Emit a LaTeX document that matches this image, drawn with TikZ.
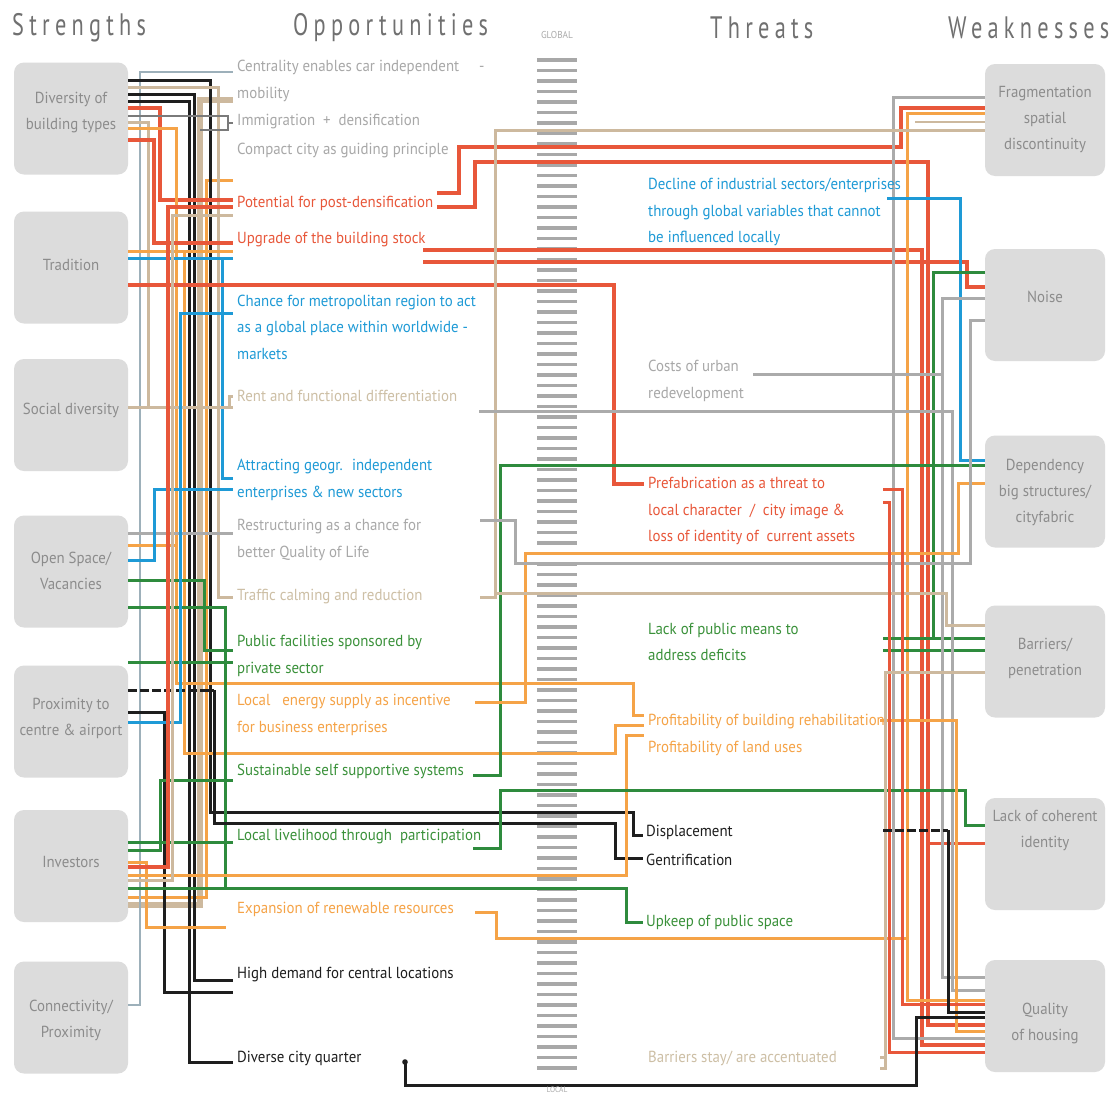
\documentclass[tikz,border=0pt]{standalone}
\usepackage{fontspec}
\setmainfont{PT Sans}
\newfontfamily\labf[FakeStretch=0.93]{PT Sans}
\newfontfamily\hdrf[FakeStretch=0.72,LetterSpace=17]{PT Sans}
\definecolor{cred}{HTML}{E8573A}
\definecolor{corg}{HTML}{F5A347}
\definecolor{ctan}{HTML}{CDB99E}
\definecolor{cgray}{HTML}{ABABAB}
\definecolor{cdgray}{HTML}{7A7A7A}
\definecolor{cblue}{HTML}{1E9AD6}
\definecolor{cgreen}{HTML}{2E8B3D}
\definecolor{cblack}{HTML}{1E1E1E}
\definecolor{cgb}{HTML}{9DB0BA}
\definecolor{boxgray}{HTML}{DCDCDC}
\definecolor{btext}{HTML}{8C8C8C}
\definecolor{hdrc}{HTML}{707070}
\definecolor{tgray}{HTML}{A8A8A8}
\definecolor{ttan}{HTML}{CDBFA5}
\definecolor{tgreen}{HTML}{3A913A}
\definecolor{stripe}{HTML}{A8A8A8}
\begin{document}
\begin{tikzpicture}[x=1pt,y=-1pt,
  sbox/.style={fill=boxgray, rounded corners=10pt, minimum width=114pt, minimum height=112pt, inner sep=0pt},
  wbox/.style={sbox, minimum width=120pt},
  btxt/.style={font=\labf\fontsize{16}{26}\selectfont, text=btext, align=center, inner sep=0pt},
  lab/.style={font=\labf\fontsize{16}{26.5}\selectfont, align=left, anchor=west, inner sep=0pt},
  hdr/.style={font=\hdrf\fontsize{31}{31}\selectfont, text=hdrc, anchor=west, inner sep=0pt},
  cn/.style={line width=3pt},
  cnt/.style={line width=4pt},
  cnw/.style={line width=5.5pt},
  cnl/.style={line width=2pt}]
\fill[white] (0,0) rectangle (1116,1095);
\useasboundingbox (0,0) rectangle (1116,1095);

% headers
\node[hdr] (hS) at (12,28) {Strengths};
\node[hdr] (hO) at (293,28) {Opportunities};
\node[hdr] (hT) at (710,28) {Threats};
\node[hdr] (hW) at (948,28) {Weaknesses};
\node[font=\labf\fontsize{10}{10}\selectfont, text=cgray, inner sep=0pt] (glob) at (557,35) {GLOBAL};

% central stripe
\foreach \i in {0,...,96} {
  \fill[stripe] (537,{58+\i*10.5}) rectangle (577,{61.8+\i*10.5});
}

% strength boxes
\node[sbox] (s1) at (71,118.5) {};
\node[sbox] (s2) at (71,267.5) {};
\node[sbox] (s3) at (71,415) {};
\node[sbox] (s4) at (71,571.5) {};
\node[sbox] (s5) at (71,721.5) {};
\node[sbox] (s6) at (71,866) {};
\node[sbox] (s7) at (71,1017.5) {};
\node[btxt] (s1t) at (71,113) {Diversity of\\building types};
\node[btxt] (s2t) at (71,265) {Tradition};
\node[btxt] (s3t) at (71,410) {Social diversity};
\node[btxt] (s4t) at (71,571) {Open Space/\\Vacancies};
\node[btxt] (s5t) at (71,718) {Proximity to\\centre \& airport};
\node[btxt] (s6t) at (71,862) {Investors};
\node[btxt] (s7t) at (71,1020) {Connectivity/\\Proximity};

% weakness boxes
\node[wbox] (w1) at (1045,120) {};
\node[wbox] (w2) at (1045,305) {};
\node[wbox] (w3) at (1045,491.5) {};
\node[wbox] (w4) at (1045,661.5) {};
\node[wbox] (w5) at (1045,854) {};
\node[wbox] (w6) at (1045,1016) {};
\node[btxt] (w1t) at (1045,119) {Fragmentation\\spatial\\discontinuity};
\node[btxt] (w2t) at (1045,297) {Noise};
\node[btxt] (w3t) at (1045,492) {Dependency\\big structures/\\cityfabric};
\node[btxt] (w4t) at (1045,658) {Barriers/\\penetration};
\node[btxt] (w5t) at (1045,830) {Lack of coherent\\identity};
\node[btxt] (w6t) at (1045,1023) {Quality\\of housing};

% ---------- connectors, left bundle ----------
\draw[cnw,ctan] (s6.east |- 0,905) -- (200,905) -- (200,100) -- (233,100);
\draw[cn,corg] (s6.east |- 0,897) -- (206,897) -- (206,180) -- (233,180);
\draw[cnl,cgb] (s7.east |- 0,1005) -- (140,1005) -- (140,72) -- (233,72);
\draw[cn,cblack] (s1.east |- 0,80) -- (210,80) -- (210,812) -- (633,812) -- (633,835) -- (643,835);
\draw[cn,ctan] (s1.east |- 0,87) -- (218,87) -- (218,597) -- (233,597);
\draw[cn,cblack] (s1.east |- 0,94) -- (194,94) -- (194,980) -- (233,980);
\draw[cn,cblack] (s1.east |- 0,101) -- (189,101) -- (189,1062) -- (233,1062);
\draw[cnt,cred] (s1.east |- 0,108) -- (160,108) -- (160,200) -- (233,200);
\draw[cnl,cdgray] (s1.east |- 0,116) -- (228,116) -- (228,130) -- (200,130);
\draw[cnl,cdgray] (228,123) -- (233,123);
\draw[cn,ctan] (s1.east |- 0,122) -- (148,122) -- (148,407) -- (233,407);
\draw[cn,corg] (s1.east |- 0,128) -- (176,128) -- (176,683) -- (633,683) -- (633,715) -- (644,715);
\draw[cnt,cred] (s1.east |- 0,140) -- (154,140) -- (154,243) -- (233,243);

\draw[cn,corg] (s2.east |- 0,251) -- (233,251);
\draw[cn,corg] (184,251) -- (184,753) -- (615,753) -- (615,725) -- (644,725);
\draw[cn,cblue] (s2.east |- 0,258) -- (233,258);
\draw[cn,cblue] (222,258) -- (222,478) -- (233,478);
\draw[cnt,cred] (s2.east |- 0,285) -- (614,285) -- (614,484) -- (644,484);

\draw[cn,ctan] (s3.east |- 0,407) -- (229,407) -- (229,396) -- (233,396);

\draw[cn,cgray] (s4.east |- 0,533) -- (233,533);
\draw[cn,corg] (s4.east |- 0,545) -- (176,545);
\draw[cn,cblue] (s4.east |- 0,560) -- (154,560) -- (154,489) -- (233,489);
\draw[cn,cgreen] (s4.east |- 0,580) -- (204,580) -- (204,650) -- (233,650);
\draw[cn,cgreen] (s4.east |- 0,607) -- (225,607) -- (225,888) -- (626,888) -- (626,922) -- (643,922);

\draw[cn,cgreen] (s5.east |- 0,662) -- (233,662);
\draw[cn,cblack,dash pattern=on 9pt off 3pt] (s5.east |- 0,690) -- (214,690);
\draw[cn,cblack] (214,690) -- (214,823) -- (615,823) -- (615,858) -- (643,858);
\draw[cn,cblack] (s5.east |- 0,712) -- (164,712) -- (164,992) -- (233,992);
\draw[cn,cblue] (s5.east |- 0,722) -- (180,722) -- (180,313) -- (233,313);

\draw[cn,cgreen] (s6.east |- 0,842) -- (233,842);
\draw[cn,cgreen] (s6.east |- 0,850) -- (160,850) -- (160,780) -- (233,780);
\draw[cn,corg] (s6.east |- 0,862) -- (146,862) -- (146,927) -- (226,927);
\draw[cnt,cred] (s6.east |- 0,867) -- (168,867) -- (168,207) -- (233,207);
\draw[cn,corg] (s6.east |- 0,875) -- (626,875) -- (626,735) -- (644,735);
\draw[cn,ctan] (s6.east |- 0,880) -- (172,880) -- (172,215) -- (233,215);
\draw[cn,cgreen] (s6.east |- 0,888) -- (225,888);

% ---------- connectors, middle and right ----------
\draw[cnt,cred] (437,193) -- (459,193) -- (459,147) -- (901,147) -- (901,108) -- (w1.west |- 0,108);
\draw[cnt,cred] (437,207) -- (475,207) -- (475,162) -- (928,162) -- (928,1025) -- (w6.west |- 0,1025);
\draw[cn,cred] (928,843) -- (w5.west |- 0,843);
\draw[cnt,cred] (423,250) -- (922,250) -- (922,1045) -- (w6.west |- 0,1045);
\draw[cnt,cred] (423,262) -- (967,262) -- (967,287) -- (w2.west |- 0,287);
\draw[cn,cgray] (w1.west |- 0,97) -- (893,97) -- (893,1038) -- (w6.west |- 0,1038);
\draw[cn,corg] (w1.west |- 0,113) -- (907,113) -- (907,1000) -- (w6.west |- 0,1000);
\draw[cnl,ctan] (w1.west |- 0,122) -- (915,122);
\draw[cn,ctan] (480,597) -- (495,597) -- (495,130) -- (w1.west |- 0,130);
\draw[cn,cblue] (887,198) -- (960,198) -- (960,460) -- (w3.west |- 0,460);
\draw[cn,cgreen] (w2.west |- 0,272) -- (933,272) -- (933,638) -- (w4.west |- 0,638);
\draw[cn,cgreen] (883,638) -- (933,638);
\draw[cn,cgreen] (883,650) -- (w4.west |- 0,650);
\draw[cn,cgray] (753,374) -- (942,374) -- (942,298) -- (w2.west |- 0,298);
\draw[cn,cgray] (942,374) -- (942,977) -- (w6.west |- 0,977);
\draw[cn,cgray] (479,411) -- (952,411) -- (952,990) -- (w6.west |- 0,990);
\draw[cn,cgreen] (473,775) -- (500,775) -- (500,465) -- (w3.west |- 0,465);
\draw[cn,corg] (475,702) -- (525,702) -- (525,553) -- (958,553) -- (958,483) -- (w3.west |- 0,483);
\draw[cn,cgray] (480,520) -- (515,520) -- (515,563) -- (970,563) -- (970,320) -- (w2.west |- 0,320);
\draw[cn,ctan] (495,593) -- (946,593) -- (946,625) -- (w4.west |- 0,625);
\draw[cn,cgreen] (473,848) -- (500,848) -- (500,790) -- (965,790) -- (965,825) -- (w5.west |- 0,825);
\draw[cn,corg] (475,912) -- (496,912) -- (496,938) -- (907,938);
\draw[cn,corg] (880,720) -- (956,720) -- (956,1031) -- (w6.west |- 0,1031);
\draw[cn,cred] (883,489) -- (902,489) -- (902,1004) -- (w6.west |- 0,1004);
\draw[cn,cred] (883,502) -- (889,502) -- (889,1052) -- (w6.west |- 0,1052);
\draw[cn,ctan] (880,1068) -- (885,1068) -- (885,672) -- (w4.west |- 0,672);
\draw[cn,ctan] (880,1057) -- (885,1057);
\draw[cn,cblack,dash pattern=on 9pt off 3pt] (883,830) -- (948,830);
\draw[cn,cblack] (948,830) -- (948,1012) -- (w6.west |- 0,1012);
\draw[cn,cblack] (405,1062) -- (405,1085) -- (916,1085) -- (916,1017) -- (w6.west |- 0,1017);
\fill[cblack] (405,1062) circle (2.8);
\node[font=\labf\fontsize{8}{8}\selectfont, text=cgray, inner sep=0pt] (loc) at (557,1090) {LOCAL};

% ---------- opportunity texts ----------
\node[lab, text=tgray] (o1) at (237,81) {Centrality enables car independent \quad -\\mobility};
\node[lab, text=tgray] (o2) at (237,122) {Immigration \ + \ densification};
\node[lab, text=tgray] (o3) at (237,150) {Compact city as guiding principle};
\node[lab, text=cred] (o4) at (237,203) {Potential for post-densification};
\node[lab, text=cred] (o5) at (237,240) {Upgrade of the building stock};
\node[lab, text=cblue] (o6) at (237,327) {Chance for metropolitan region to act\\as a global place within worldwide -\\markets};
\node[lab, text=ttan] (o7) at (237,396) {Rent and functional differentiation};
\node[lab, text=cblue] (o8) at (237,480) {Attracting geogr. \ independent\\enterprises \& new sectors};
\node[lab, text=tgray] (o9) at (237,540) {Restructuring as a chance for\\better Quality of Life};
\node[lab, text=ttan] (o10) at (237,597) {Traffic calming and reduction};
\node[lab, text=tgreen] (o11) at (237,656) {Public facilities sponsored by\\private sector};
\node[lab, text=corg] (o12) at (237,715) {Local \ \ energy supply as incentive\\for business enterprises};
\node[lab, text=tgreen] (o13) at (237,771) {Sustainable self supportive systems};
\node[lab, text=tgreen] (o14) at (237,837) {Local livelihood through \ participation};
\node[lab, text=corg] (o15) at (237,909) {Expansion of renewable resources};
\node[lab, text=cblack] (o16) at (237,975) {High demand for central locations};
\node[lab, text=cblack] (o17) at (237,1058) {Diverse city quarter};

% ---------- threat texts ----------
\node[lab, text=cblue] (t1) at (648,212) {Decline of industrial sectors/enterprises\\through global variables that cannot\\be influenced locally};
\node[lab, text=tgray] (t2) at (648,381) {Costs of urban\\redevelopment};
\node[lab, text=cred] (t3) at (648,511) {Prefabrication as a threat to\\local character \ / \ city image \&\\loss of identity of \ current assets};
\node[lab, text=tgreen] (t4) at (648,642) {Lack of public means to\\address deficits};
\node[lab, text=corg] (t5) at (648,735) {Profitability of building rehabilitation\\Profitability of land uses};
\node[lab, text=cblack] (t6) at (646,832) {Displacement};
\node[lab, text=cblack] (t7) at (646,860) {Gentrification};
\node[lab, text=tgreen] (t8) at (646,922) {Upkeep of public space};
\node[lab, text=ttan] (t9) at (648,1058) {Barriers stay/ are accentuated};
\end{tikzpicture}
\end{document}
